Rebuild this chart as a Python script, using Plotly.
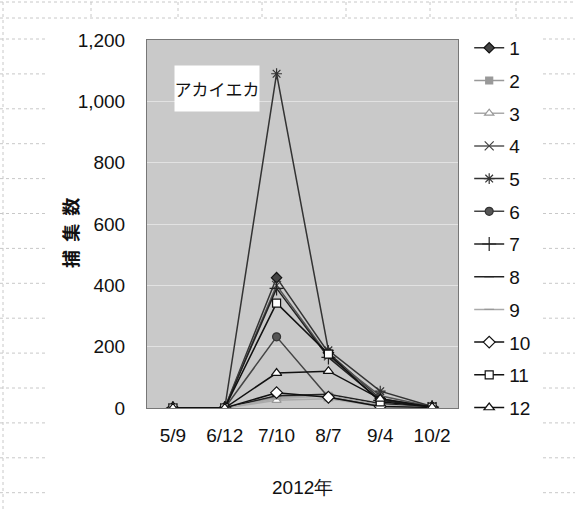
import plotly.graph_objects as go

dates = ["5/9", "6/12", "7/10", "8/7", "9/4", "10/2"]
series_names = ["1", "2", "3", "4", "5", "6", "7", "8", "9", "10", "11", "12"]
s1 = [0, 0, 425, 180, 30, 3]
s2 = [0, 0, 35, 40, 10, 2]
s3 = [0, 0, 25, 30, 5, 2]
s4 = [0, 0, 400, 170, 40, 4]
s5 = [0, 0, 1090, 188, 55, 5]
s6 = [0, 0, 232, 35, 10, 2]
s7 = [0, 0, 390, 165, 25, 3]
s8 = [0, 0, 40, 45, 15, 2]
s9 = [0, 0, 30, 40, 10, 2]
s10 = [0, 0, 50, 35, 5, 2]
s11 = [0, 0, 342, 176, 20, 3]
s12 = [0, 0, 114, 120, 30, 3]
values = [s1, s2, s3, s4, s5, s6, s7, s8, s9, s10, s11, s12]

styles = [
    dict(symbol="diamond", color="#333333", fill="#444444", line="#111111", size=8),
    dict(symbol="square", color="#999999", fill="#999999", line="#999999", size=7),
    dict(symbol="triangle-up", color="#aaaaaa", fill="#ffffff", line="#999999", size=8),
    dict(symbol="x-thin", color="#555555", fill="#555555", line="#444444", size=9),
    dict(symbol="asterisk", color="#333333", fill="#333333", line="#333333", size=9),
    dict(symbol="circle", color="#444444", fill="#555555", line="#333333", size=8),
    dict(symbol="cross-thin", color="#222222", fill="#222222", line="#222222", size=10),
    dict(symbol="line-ew", color="#222222", fill="#222222", line="#222222", size=7),
    dict(symbol="line-ew", color="#aaaaaa", fill="#aaaaaa", line="#999999", size=7),
    dict(symbol="diamond", color="#111111", fill="#ffffff", line="#111111", size=9),
    dict(symbol="square", color="#111111", fill="#ffffff", line="#111111", size=8),
    dict(symbol="triangle-up", color="#111111", fill="#ffffff", line="#111111", size=9),
]

FONT = "Liberation Sans"

fig = go.Figure()
for name, vals, st in zip(series_names, values, styles):
    fig.add_trace(go.Scatter(
        x=dates, y=vals, name=name, mode="lines+markers",
        legendgroup=name,
        line=dict(color=st["color"], width=1.5),
        marker=dict(symbol=st["symbol"], size=st["size"], color=st["fill"],
                    line=dict(color=st["line"], width=1.2)),
    ))

# spreadsheet cell lines in the background (scan artefact)
shapes = []
for k in range(14):
    y = 39 + 34.9 * k
    shapes.append(dict(type="line", xref="paper", yref="paper",
                       x0=-147 / 311, x1=-102 / 311, y0=(408 - y) / 368, y1=(408 - y) / 368,
                       line=dict(color="#c8c8c8", width=1, dash="dot"), layer="below"))
    shapes.append(dict(type="line", xref="paper", yref="paper",
                       x0=(543 - 147) / 311, x1=(575 - 147) / 311, y0=(408 - y) / 368, y1=(408 - y) / 368,
                       line=dict(color="#c8c8c8", width=1, dash="dot"), layer="below"))
for y in [2, 18]:
    shapes.append(dict(type="line", xref="paper", yref="paper",
                       x0=-147 / 311, x1=(575 - 147) / 311, y0=(408 - y) / 368, y1=(408 - y) / 368,
                       line=dict(color="#c8c8c8", width=1, dash="dot"), layer="below"))
for x in [91, 178, 262, 346, 430, 516]:
    shapes.append(dict(type="line", xref="paper", yref="paper",
                       x0=(x - 147) / 311, x1=(x - 147) / 311, y0=(408 - 2) / 368, y1=(408 - 18) / 368,
                       line=dict(color="#c8c8c8", width=1, dash="dot"), layer="below"))
shapes.append(dict(type="line", xref="paper", yref="paper",
                   x0=-144 / 311, x1=-144 / 311, y0=(408 - 2) / 368, y1=(408 - 509) / 368,
                   line=dict(color="#c8c8c8", width=1, dash="dot"), layer="below"))

fig.update_layout(
    width=575, height=509,
    margin=dict(l=147, r=117, t=40, b=101),
    paper_bgcolor="#ffffff",
    plot_bgcolor="#c9c9c9",
    font=dict(family=FONT, size=19, color="#111111"),
    showlegend=True,
    legend=dict(x=1.036, xanchor="left", y=1.03, yanchor="top",
                font=dict(size=19, family=FONT), tracegroupgap=5,
                itemwidth=30, bgcolor="rgba(0,0,0,0)", maxheight=480),
    shapes=shapes,
    xaxis=dict(type="category", range=[-0.5, 5.5], showgrid=False,
               showline=True, linecolor="#777777", linewidth=1, mirror=True,
               ticks="", ticklabelstandoff=10, tickfont=dict(size=19, family=FONT)),
    yaxis=dict(range=[0, 1200], dtick=200, tickformat=",", showgrid=True,
               gridcolor="#e2e2e2", gridwidth=1,
               showline=True, linecolor="#777777", linewidth=1, mirror=True,
               ticks="", ticklabelstandoff=17, zeroline=False,
               tickfont=dict(size=19, family=FONT)),
    annotations=[
        dict(x=0.85, y=1043, xref="x", yref="y", text="アカイエカ", showarrow=False,
             bgcolor="#ffffff", font=dict(size=17, family="Noto Sans CJK JP", color="#111111"),
             width=84, height=45, borderpad=0),
        dict(x=(70 - 147) / 311, y=(408 - 233) / 368, xref="paper", yref="paper",
             xanchor="center", yanchor="middle",
             text="捕  集  数", textangle=-90, showarrow=False,
             font=dict(size=18, family="Noto Sans CJK JP", color="#111111", weight="bold")),
        dict(x=(302 - 147) / 311, y=(408 - 487) / 368, xref="paper", yref="paper",
             xanchor="center", yanchor="middle",
             text="2012年", showarrow=False,
             font=dict(size=19, family=FONT, color="#111111")),
    ],
)

fig.write_html("out.html")
